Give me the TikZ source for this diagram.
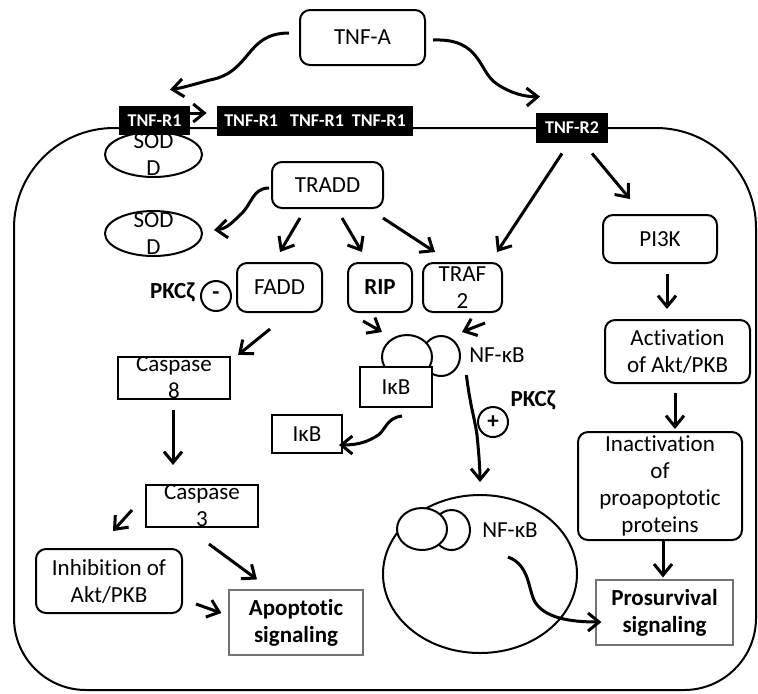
\documentclass[tikz,border=0pt]{standalone}
\usepackage{fontspec}
\setmainfont[Ligatures=NoCommon]{Carlito}
\usetikzlibrary{arrows.meta, shapes.geometric}

\begin{document}
\begin{tikzpicture}[x=0.5pt, y=-0.5pt,
    every node/.style={font=\fontsize{11.5}{13.5}\selectfont, align=center},
    rbox/.style={draw, line width=1pt, rounded corners=5pt, inner sep=1pt},
    sbox/.style={draw, line width=1pt, inner sep=0pt},
    gbox/.style={draw=black!55, line width=0.6pt, inner sep=1pt, font=\fontsize{11.5}{13.5}\selectfont\bfseries},
    rec/.style={fill=black, text=white, inner sep=0pt, font=\fontsize{9}{10}\selectfont\bfseries},
    sod/.style={ellipse, draw, line width=1pt, inner sep=-6pt, minimum width=48.5pt, minimum height=22.5pt},
    blob/.style={ellipse, draw, fill=white, line width=1pt, inner sep=0pt},
    sign/.style={circle, draw, line width=1pt, inner sep=0pt, minimum size=15pt, font=\fontsize{11.5}{13.5}\selectfont\bfseries},
    arr/.style={-{Straight Barb[length=5.5pt, width=9pt]}, line width=1.5pt}]
    \useasboundingbox (0,0) rectangle (758,693);
    \draw[line width=1pt] (14,400) [rounded corners=50pt] -- (14,128) -- (756,128) [rounded corners=36pt] -- (756,690) -- (14,690) -- (14,400);
    \node[rbox, minimum width=62.5pt, minimum height=27.5pt] (tnfa) at (362.5,37.5) {TNF-A};
    \node[sod] (sod1) at (153.5,154.5) {SOD\\D};
    \node[rec, minimum width=35.5pt, minimum height=14.5pt] (r1a) at (154.5,120.5) {TNF-R1};
    \node[rec, minimum width=98pt, minimum height=15pt] (r1b) at (315,120.5) {TNF-R1\hspace{6pt}TNF-R1\hspace{4pt}TNF-R1};
    \node[rec, minimum width=36pt, minimum height=15pt] (r2) at (572,128) {TNF-R2};
    \node[sod] (sod2) at (153.5,233.5) {SOD\\D};
    \node[rbox, minimum width=55.5pt, minimum height=23pt] (tradd) at (327.5,185) {TRADD};
    \node[rbox, minimum width=42.5pt, minimum height=24.5pt] (fadd) at (279.5,287.5) {FADD};
    \node[rbox, minimum width=32pt, minimum height=24.5pt, font=\fontsize{11.5}{13.5}\selectfont\bfseries] (rip) at (380,287.5) {RIP};
    \node[rbox, minimum width=39.5pt, minimum height=24.5pt] (traf2) at (462.5,287.5) {TRAF\\2};
    \node[font=\fontsize{11.5}{13.5}\selectfont\bfseries] (pkc1) at (172.5,292) {PKCζ};
    \node[sign] (minus) at (216,296) {\raisebox{-2pt}{-}};
    \node[rbox, minimum width=57pt, minimum height=24pt] (pi3k) at (660,239) {PI3K};
    \node[rbox, minimum width=72.5pt, minimum height=31.5pt] (act) at (677.5,351.5) {Activation\\of Akt/PKB};
    \node[rbox, minimum width=82pt, minimum height=54pt] (inact) at (660,486) {Inactivation\\of\\proapoptotic\\proteins};
    \node[gbox, minimum width=68.5pt, minimum height=32.5pt] (pros) at (664.5,612.5) {Prosurvival\\signaling};
    \node[blob, minimum width=19pt, minimum height=20pt] (nfb) at (441,356) {};
    \node[blob, minimum width=25pt, minimum height=22pt] (nfa) at (407,357) {};
    \node[sbox, fill=white, minimum width=36pt, minimum height=20pt] (ikb1) at (396,387) {IκB};
    \node[inner sep=0pt] (nflab) at (497,355) {NF-κB};
    \node[font=\fontsize{11.5}{13.5}\selectfont\bfseries] (pkc2) at (533,400) {PKCζ};
    \node[sign] (plus) at (493,422) {+};
    \node[sbox, minimum width=35pt, minimum height=19pt] (ikb2) at (307,434) {IκB};
    \node[ellipse, draw, line width=1pt, minimum width=97pt, minimum height=79pt] (nuc) at (480,574) {};
    \node[blob, minimum width=18.5pt, minimum height=20pt] (nfd) at (451.5,530) {};
    \node[blob, minimum width=25pt, minimum height=21pt] (nfc) at (422,529) {};
    \node[inner sep=0pt] (nflab2) at (510,530) {NF-κB};
    \node[sbox, minimum width=56pt, minimum height=20pt] (casp8) at (174,378) {Caspase\\8};
    \node[sbox, minimum width=56pt, minimum height=20pt] (casp3) at (202,506) {Caspase\\3};
    \node[rbox, minimum width=73pt, minimum height=32pt] (inhib) at (109,581) {Inhibition of\\Akt/PKB};
    \node[gbox, minimum width=67pt, minimum height=32.5pt] (apop) at (296,622.5) {Apoptotic\\signaling};
    \draw[arr] ([xshift=-5pt,yshift=2.25pt]tnfa.west) .. controls (245,33) and (252,72) .. (210,80) .. controls (195,84) and (182,88) .. ([xshift=7.75pt,yshift=8pt]r1a.north);
    \draw[arr] ([xshift=3.5pt,yshift=-1.25pt]tnfa.east) .. controls (482,38) and (478,72) .. (497,84) .. controls (510,93) and (525,97) .. ([xshift=-16pt,yshift=8pt]r2.north);
    \draw[arr] ([yshift=3.75pt]r1a.east) -- ([xshift=-5pt,yshift=3.75pt]r1b.west);
    \draw[arr] ([xshift=-1pt,yshift=-1.5pt]tradd.west) .. controls (252,188) and (252,205) .. (240,215) .. controls (230,225) and (225,229) .. ([xshift=5.5pt,yshift=1.75pt]sod2.east);
    \draw[arr] ([xshift=-13.75pt,yshift=-4.5pt]tradd.south) -- ([xshift=0.25pt,yshift=5pt]fadd.north);
    \draw[arr] ([xshift=7.25pt,yshift=-4.5pt]tradd.south) -- ([xshift=-9pt,yshift=5pt]rip.north);
    \draw[arr] ([xshift=27.75pt,yshift=-4.5pt]tradd.south) -- ([xshift=-13.75pt,yshift=5pt]traf2.north);
    \draw[arr] ([xshift=-5pt,yshift=-5pt]r2.south) -- ([xshift=17.25pt,yshift=5pt]traf2.north);
    \draw[arr] ([xshift=10pt,yshift=-5pt]r2.south) -- ([xshift=-15pt,yshift=7.5pt]pi3k.north);
    \draw[arr] ([xshift=3.5pt,yshift=-5pt]pi3k.south) -- ([xshift=-5.25pt,yshift=5pt]act.north);
    \draw[arr] ([xshift=-1.25pt,yshift=-4.5pt]act.south) -- ([xshift=7.5pt,yshift=1pt]inact.north);
    \draw[arr] ([xshift=1.5pt]inact.south) -- ([xshift=-0.75pt,yshift=1pt]pros.north);
    \draw[arr] ([xshift=-8.5pt,yshift=-4pt]rip.south) -- ([xshift=-12.5pt,yshift=1pt]nfa.north);
    \draw[arr] ([xshift=11.25pt,yshift=-5pt]traf2.south) -- ([xshift=10.5pt,yshift=1.5pt]nfb.north);
    \draw[arr] ([xshift=3pt,yshift=-4pt]ikb1.south) .. controls (385,418) and (386,432) .. (375,437) .. controls (365,443) and (355,445) .. ([xshift=-2pt,yshift=-5.5pt]ikb2.east);
    \draw[arr] ([xshift=-1.25pt,yshift=-10pt]nflab.west) .. controls (470,405) and (475,420) .. (477,435) .. controls (479,455) and (480,470) .. ([yshift=6pt]nuc.north);
    \draw[arr] ([xshift=-1pt,yshift=-13.5pt]nflab2.center) .. controls (530,565) and (528,590) .. (535,602) .. controls (545,618) and (570,622) .. ([xshift=3pt,yshift=-4.75pt]pros.west);
    \draw[arr] ([xshift=-4.75pt,yshift=-8pt]fadd.south) -- ([xshift=32pt,yshift=0.5pt]casp8.north);
    \draw[arr] ([xshift=-0.5pt,yshift=-5pt]casp8.south) -- ([xshift=-14.5pt,yshift=9.5pt]casp3.north);
    \draw[arr] ([xshift=-6.5pt,yshift=-2pt]casp3.west) -- ([xshift=2pt,yshift=8.5pt]inhib.north);
    \draw[arr] ([xshift=3.5pt,yshift=-8pt]casp3.south) -- ([xshift=-19.5pt,yshift=5pt]apop.north);
    \draw[arr] ([xshift=6.5pt,yshift=-11.5pt]inhib.east) -- ([xshift=-3.5pt,yshift=4.75pt]apop.west);
\end{tikzpicture}
\end{document}
